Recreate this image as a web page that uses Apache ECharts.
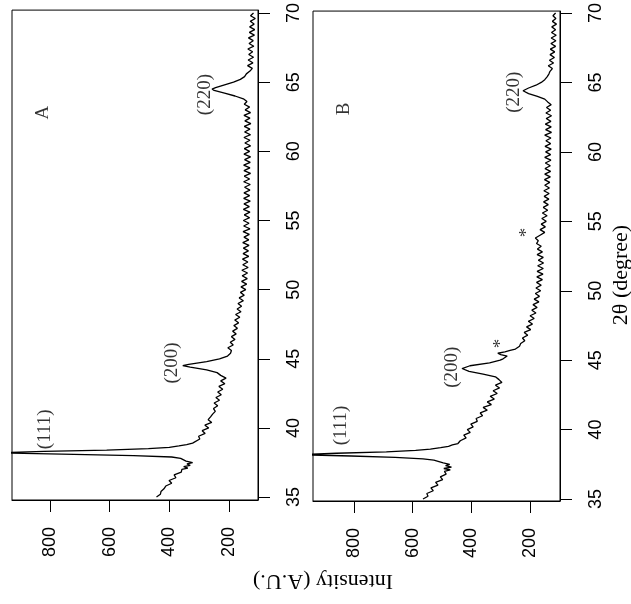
<!DOCTYPE html>
<html>
<head>
    <meta charset="utf-8">
    <title>XRD A / B</title>
    <script src="https://cdn.jsdelivr.net/npm/echarts@6/dist/echarts.min.js"></script>
    <style>
        html, body { margin: 0; padding: 0; background: #fff; }
        #main { width: 631px; height: 604px; }
    </style>
</head>
<body>
<div id="main"></div>
<script>
    // 2θ (degree) and intensity (A.U.)
    var thetaA = [35.0, 35.2, 35.4, 35.6, 35.8, 36.0, 36.2, 36.4, 36.6, 36.8, 37.0, 37.1, 37.2, 37.3, 37.4, 37.5, 37.6, 37.7, 37.8, 37.9,
        38.0, 38.1, 38.2, 38.3, 38.4, 38.5, 38.6, 38.7, 38.8, 38.9, 39.0, 39.2, 39.4, 39.6, 39.8, 40.0, 40.2, 40.4, 40.6, 40.8,
        41.0, 41.2, 41.4, 41.6, 41.8, 42.0, 42.2, 42.4, 42.6, 42.8, 43.0, 43.2, 43.4, 43.6, 43.8, 44.0, 44.2, 44.4, 44.5, 44.6,
        44.8, 45.0, 45.2, 45.4, 45.6, 45.8, 46.0, 46.2, 46.4, 46.6, 46.8, 47.0, 47.2, 47.4, 47.6, 47.8, 48.0, 48.2, 48.4, 48.6,
        48.8, 49.0, 49.2, 49.4, 49.6, 49.8, 50.0, 50.2, 50.4, 50.6, 50.8, 51.0, 51.2, 51.4, 51.6, 51.8, 52.0, 52.2, 52.4, 52.6,
        52.8, 53.0, 53.2, 53.4, 53.6, 53.8, 54.0, 54.2, 54.4, 54.6, 54.8, 55.0, 55.2, 55.4, 55.6, 55.8, 56.0, 56.2, 56.4, 56.6,
        56.8, 57.0, 57.2, 57.4, 57.6, 57.8, 58.0, 58.2, 58.4, 58.6, 58.8, 59.0, 59.2, 59.4, 59.6, 59.8, 60.0, 60.2, 60.4, 60.6,
        60.8, 61.0, 61.2, 61.4, 61.6, 61.8, 62.0, 62.2, 62.4, 62.6, 62.8, 63.0, 63.2, 63.4, 63.6, 63.8, 64.0, 64.2, 64.4, 64.5,
        64.6, 64.8, 65.0, 65.2, 65.4, 65.6, 65.8, 66.0, 66.2, 66.4, 66.6, 66.8, 67.0, 67.2, 67.4, 67.6, 67.8, 68.0, 68.2, 68.4,
        68.6, 68.8, 69.0, 69.2, 69.4, 69.6, 69.8, 70.0];
    var intensityA = [443, 430, 428, 418, 412, 392, 401, 378, 384, 360, 358, 338, 352, 330, 341, 322, 344, 340, 362, 392,
        520, 760, 980, 820, 610, 470, 400, 368, 342, 322, 320, 298, 302, 280, 290, 268, 281, 258, 270, 262,
        255, 246, 252, 238, 250, 232, 244, 226, 238, 221, 234, 214, 228, 210, 228, 240, 275, 330, 355, 335,
        275, 232, 205, 195, 192, 204, 186, 196, 180, 192, 176, 188, 172, 184, 168, 181, 164, 178, 160, 173,
        158, 170, 152, 166, 149, 162, 144, 160, 141, 158, 139, 156, 138, 157, 136, 154, 137, 155, 134, 153,
        135, 152, 133, 154, 134, 150, 132, 153, 130, 151, 133, 152, 131, 149, 130, 152, 132, 150, 129, 151,
        131, 150, 130, 148, 129, 151, 131, 149, 128, 150, 130, 151, 129, 148, 128, 150, 131, 149, 128, 147,
        130, 150, 128, 148, 130, 149, 127, 147, 130, 150, 128, 146, 131, 149, 140, 152, 180, 215, 250, 257,
        245, 215, 185, 162, 148, 142, 130, 122, 138, 120, 136, 118, 134, 121, 137, 117, 133, 119, 135, 115,
        132, 114, 131, 116, 129, 112, 128, 118];

    var thetaB = [35.0, 35.2, 35.4, 35.6, 35.8, 36.0, 36.2, 36.4, 36.6, 36.8, 37.0, 37.1, 37.2, 37.3, 37.4, 37.5, 37.6, 37.7, 37.8, 37.9,
        38.0, 38.1, 38.2, 38.3, 38.4, 38.5, 38.6, 38.7, 38.8, 38.9, 39.0, 39.2, 39.4, 39.6, 39.8, 40.0, 40.2, 40.4, 40.6, 40.8,
        41.0, 41.2, 41.4, 41.6, 41.8, 42.0, 42.2, 42.4, 42.6, 42.8, 43.0, 43.2, 43.4, 43.6, 43.8, 44.0, 44.2, 44.4, 44.6, 44.8,
        45.0, 45.1, 45.2, 45.3, 45.4, 45.5, 45.6, 45.7, 45.8, 46.0, 46.2, 46.4, 46.6, 46.8, 47.0, 47.2, 47.4, 47.6, 47.8, 48.0,
        48.2, 48.4, 48.6, 48.8, 49.0, 49.2, 49.4, 49.6, 49.8, 50.0, 50.2, 50.4, 50.6, 50.8, 51.0, 51.2, 51.4, 51.6, 51.8, 52.0,
        52.2, 52.4, 52.6, 52.8, 53.0, 53.2, 53.4, 53.6, 53.8, 54.0, 54.2, 54.4, 54.6, 54.8, 55.0, 55.2, 55.4, 55.6, 55.8, 56.0,
        56.2, 56.4, 56.6, 56.8, 57.0, 57.2, 57.4, 57.6, 57.8, 58.0, 58.2, 58.4, 58.6, 58.8, 59.0, 59.2, 59.4, 59.6, 59.8, 60.0,
        60.2, 60.4, 60.6, 60.8, 61.0, 61.2, 61.4, 61.6, 61.8, 62.0, 62.2, 62.4, 62.6, 62.8, 63.0, 63.2, 63.4, 63.6, 63.8, 64.0,
        64.2, 64.4, 64.6, 64.8, 65.0, 65.2, 65.4, 65.6, 65.8, 66.0, 66.2, 66.4, 66.6, 66.8, 67.0, 67.2, 67.4, 67.6, 67.8, 68.0,
        68.2, 68.4, 68.6, 68.8, 69.0, 69.2, 69.4, 69.6, 69.8, 70.0];
    var intensityB = [565, 548, 552, 530, 538, 514, 522, 498, 506, 486, 492, 472, 494, 468, 488, 474, 496, 502, 528, 565,
        660, 810, 990, 860, 690, 590, 540, 505, 478, 465, 446, 438, 418, 426, 404, 414, 394, 402, 380, 384,
        362, 370, 346, 360, 332, 346, 322, 336, 312, 326, 304, 318, 296, 306, 318, 360, 408, 432, 405, 338,
        302, 292, 298, 278, 300, 310, 286, 268, 250, 236, 232, 218, 226, 208, 220, 198, 212, 192, 206, 186,
        200, 180, 194, 176, 190, 170, 186, 168, 182, 164, 180, 162, 178, 158, 177, 156, 176, 155, 174, 154,
        172, 155, 176, 158, 175, 162, 178, 172, 182, 166, 150, 166, 148, 162, 145, 160, 142, 158, 140, 155,
        138, 154, 136, 152, 135, 153, 134, 150, 133, 151, 131, 150, 130, 149, 131, 148, 129, 150, 130, 147,
        128, 149, 130, 146, 129, 150, 127, 147, 128, 148, 129, 145, 127, 146, 130, 144, 128, 140, 150, 175,
        205, 224, 205, 180, 162, 150, 142, 136, 132, 124, 138, 120, 134, 117, 132, 116, 131, 113, 129, 112,
        128, 111, 127, 113, 126, 110, 124, 112, 122, 113];

    var intensityTicks = [200, 400, 600, 800];
    var thetaTicks = [35, 40, 45, 50, 55, 60, 65, 70];

    // peak labels: [name, intensity, 2θ]
    var notesA = [['(111)', 817, 39.9], ['(200)', 391, 44.7], ['(220)', 280, 64.1], ['A', 823, 62.8]];
    var notesB = [['(111)', 844, 40.3], ['(200)', 466, 44.5], ['*', 298, 46.2], ['*', 210, 54.2], ['(220)', 254, 64.3], ['B', 834, 63.1]];

    var myChart = echarts.init(document.getElementById('main'));

    function pairs(th, it) {
        return th.map(function (t, i) { return [it[i], t]; });
    }

    function xAx(idx, mn, mx) {
        return {
            type: 'value', gridIndex: idx, inverse: true, position: 'bottom', min: mn, max: mx,
            axisLine: {show: true, lineStyle: {color: '#000', width: 1}},
            axisTick: {show: true, length: 12, customValues: intensityTicks, lineStyle: {color: '#000'}},
            axisLabel: {customValues: intensityTicks, rotate: 90, margin: 27, fontSize: 18, color: '#000', fontFamily: 'Liberation Sans'},
            splitLine: {show: false}
        };
    }

    function yAx(idx, mn, mx) {
        return {
            type: 'value', gridIndex: idx, position: 'right', min: mn, max: mx,
            axisLine: {show: true, lineStyle: {color: '#000', width: 1}},
            axisTick: {show: true, length: 12, customValues: thetaTicks, lineStyle: {color: '#000'}},
            axisLabel: {customValues: thetaTicks, rotate: 90, margin: 27, fontSize: 18, color: '#000', fontFamily: 'Liberation Sans'},
            splitLine: {show: false}
        };
    }

    function notes(list, idx) {
        return {
            type: 'scatter', xAxisIndex: idx, yAxisIndex: idx, symbolSize: 0, silent: true,
            data: list.map(function (n) { return {name: n[0], value: [n[1], n[2]]}; }),
            label: {
                show: true, formatter: '{b}', rotate: 90, position: 'inside',
                fontFamily: 'Liberation Serif', fontSize: 19, color: '#000'
            }
        };
    }

    myChart.setOption({
        animation: false,
        grid: [
            {left: 12, right: 373, top: 9, bottom: 104, show: true, borderColor: '#000', borderWidth: 1},
            {left: 313, right: 71, top: 11, bottom: 103, show: true, borderColor: '#000', borderWidth: 1}
        ],
        xAxis: [xAx(0, 103, 927), xAx(1, 98, 940)],
        yAxis: [yAx(0, 34.79, 70.21), yAx(1, 34.86, 70.14)],
        series: [
            {type: 'line', xAxisIndex: 0, yAxisIndex: 0, data: pairs(thetaA, intensityA), showSymbol: false,
                lineStyle: {color: '#000', width: 1.3}},
            {type: 'line', xAxisIndex: 1, yAxisIndex: 1, data: pairs(thetaB, intensityB), showSymbol: false,
                lineStyle: {color: '#000', width: 1.3}},
            notes(notesA, 0),
            notes(notesB, 1)
        ],
        graphic: [
            {type: 'text', x: 323, y: 581, rotation: Math.PI,
                style: {text: 'Intensity (A.U.)', font: '22px "Liberation Serif"', fill: '#000', textAlign: 'center', textVerticalAlign: 'middle'}},
            {type: 'text', x: 621, y: 275, rotation: Math.PI / 2,
                style: {text: '2θ (degree)', font: '22px "Liberation Serif"', fill: '#000', textAlign: 'center', textVerticalAlign: 'middle'}}
        ]
    });
</script>
</body>
</html>
